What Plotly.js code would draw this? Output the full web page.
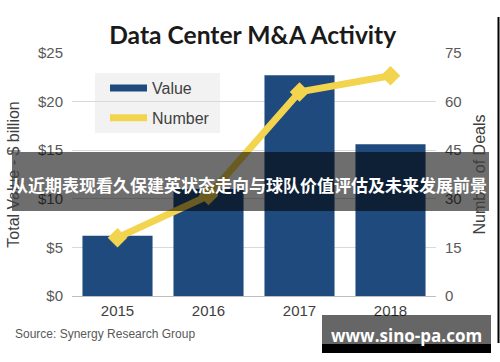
<!DOCTYPE html>
<html>
<head>
<meta charset="utf-8">
<script src="https://cdn.plot.ly/plotly-3.0.1.min.js"></script>
<style>
html,body{margin:0;padding:0;background:#fff;}
#chart{width:500px;height:362px;}
</style>
</head>
<body>
<div id="chart"></div>
<script>
// ---- data ----
const years = ['2015', '2016', '2017', '2018'];
const totalValue = [6.2, 11.0, 22.7, 15.6];     // $ billion
const numberOfDeals = [18, 31, 63, 68];
const leftTicks = [0, 5, 10, 15, 20, 25];
const rightTicks = [0, 15, 30, 45, 60, 75];
const seriesNames = ['Value', 'Number'];

const chartTitle = 'Data Center M&A Activity';
const leftTitle = 'Total Value - $ billion';
const rightTitle = 'Number of Deals';
const sourceText = 'Source: Synergy Research Group';
const bannerText = '从近期表现看久保建英状态走向与球队价值评估及未来发展前景';
const watermarkText = 'www.sino-pa.com';

// ---- layout helpers (pixel -> paper) ----
const L = 72, R = 436, T = 53, B = 296;
const px = x => (x - L) / (R - L);
const py = y => (B - y) / (B - T);

const navy = '#1f4a7e';
const yellow = '#f3d44f';
const tickGray = '#595959';

const traces = [
  { // bars
    type: 'bar', name: seriesNames[0], x: years, y: totalValue,
    marker: {color: navy}, yaxis: 'y', hoverinfo: 'skip', showlegend: false
  },
  { // deals line (legend entry)
    type: 'scatter', mode: 'lines', name: seriesNames[1], x: years, y: numberOfDeals,
    yaxis: 'y2', line: {color: yellow, width: 7}, hoverinfo: 'skip',
    legendgroup: 'b', legendrank: 2
  },
  { // deals markers
    type: 'scatter', mode: 'markers', name: seriesNames[1], x: years, y: numberOfDeals,
    yaxis: 'y2', marker: {symbol: 'diamond', size: 15, color: yellow},
    hoverinfo: 'skip', showlegend: false
  },
  { // legend swatch for bars (wide bar key like the original)
    type: 'scatter', mode: 'lines', name: seriesNames[0], x: [null], y: [null],
    line: {color: navy, width: 7}, hoverinfo: 'skip',
    legendgroup: 'a', legendrank: 1
  }
];

const layout = {
  width: 500, height: 362,
  margin: {l: L, r: 500 - R, t: T, b: 362 - B, pad: 0},
  paper_bgcolor: '#fff', plot_bgcolor: '#fff',
  font: {family: '"Liberation Sans", Arial, sans-serif', color: tickGray, size: 15},
  showlegend: true,
  bargap: 0.23,
  title: {text: chartTitle, x: px(256), xanchor: 'center', y: 1 - 35 / 362, yanchor: 'middle',
          font: {family: 'Lato, "Open Sans", sans-serif', size: 24.6, color: '#1a1a1a', weight: 'bold'}},
  xaxis: {
    type: 'category', range: [-0.5, 3.5], showgrid: false, zeroline: false,
    showline: false, ticks: '', tickfont: {size: 15, color: '#404040'}, ticklabelstandoff: 4,
    fixedrange: true
  },
  yaxis: {
    range: [0, 25], tickvals: leftTicks, ticktext: leftTicks.map(v => '$' + v),
    showgrid: true, gridcolor: '#d9d9d9', gridwidth: 1,
    zeroline: true, zerolinecolor: '#bfbfbf', zerolinewidth: 1,
    showline: false, ticks: '', tickfont: {size: 15, color: tickGray}, ticklabelstandoff: 8,
    title: {text: leftTitle, font: {size: 16, color: '#404040'}, standoff: 14},
    automargin: false, fixedrange: true
  },
  yaxis2: {
    overlaying: 'y', side: 'right', range: [0, 75], tickvals: rightTicks,
    showgrid: false, zeroline: false, showline: false, ticks: '',
    tickfont: {size: 15, color: tickGray}, ticklabelstandoff: 8,
    title: {text: rightTitle, font: {size: 16, color: '#404040'}, standoff: 13},
    automargin: false, fixedrange: true
  },
  legend: {
    x: px(105), y: py(71), xanchor: 'left', yanchor: 'top',
    bgcolor: 'rgba(0,0,0,0)', borderwidth: 0, itemwidth: 37,
    traceorder: 'grouped', tracegroupgap: 6,
    font: {size: 16, color: '#404040'}, itemclick: false, itemdoubleclick: false
  },
  shapes: [
    // legend background
    {type: 'rect', xref: 'paper', yref: 'paper', layer: 'between',
     x0: px(95), x1: px(220), y0: py(133), y1: py(73),
     fillcolor: '#f2f2f2', line: {width: 0}},
    // dark translucent banner
    {type: 'rect', xref: 'paper', yref: 'paper', layer: 'above',
     x0: px(12), x1: px(489), y0: py(211), y1: py(152),
     fillcolor: 'rgba(0,0,0,0.57)', line: {width: 0}},
    // watermark box
    {type: 'rect', xref: 'paper', yref: 'paper', layer: 'above',
     x0: px(322), x1: px(491), y0: py(344), y1: py(315),
     fillcolor: 'rgba(0,0,0,0.6)', line: {width: 0}},
    {type: 'rect', xref: 'paper', yref: 'paper', layer: 'above',
     x0: px(322), x1: px(491), y0: py(353), y1: py(344),
     fillcolor: '#000', line: {width: 0}},
    // right border line
    {type: 'line', xref: 'paper', yref: 'paper', layer: 'above',
     x0: px(498.5), x1: px(498.5), y0: py(343), y1: py(17),
     line: {color: '#000', width: 2}}
  ],
  annotations: [
    {text: sourceText, xref: 'paper', yref: 'paper', x: px(13), y: py(334),
     xanchor: 'left', yanchor: 'middle', showarrow: false,
     font: {size: 12, color: tickGray}},
    {text: bannerText, xref: 'paper', yref: 'paper', x: px(249), y: py(184),
     xanchor: 'center', yanchor: 'middle', showarrow: false,
     font: {family: '"Noto Sans CJK SC", sans-serif', size: 17, color: '#fff', weight: 'bold'}},
    {text: watermarkText, xref: 'paper', yref: 'paper', x: px(406), y: py(335),
     xanchor: 'center', yanchor: 'middle', showarrow: false,
     font: {family: '"Open Sans", sans-serif', size: 17, color: '#fff', weight: 'bold'}}
  ]
};

Plotly.newPlot('chart', traces, layout, {staticPlot: true, displayModeBar: false});
</script>
</body>
</html>
